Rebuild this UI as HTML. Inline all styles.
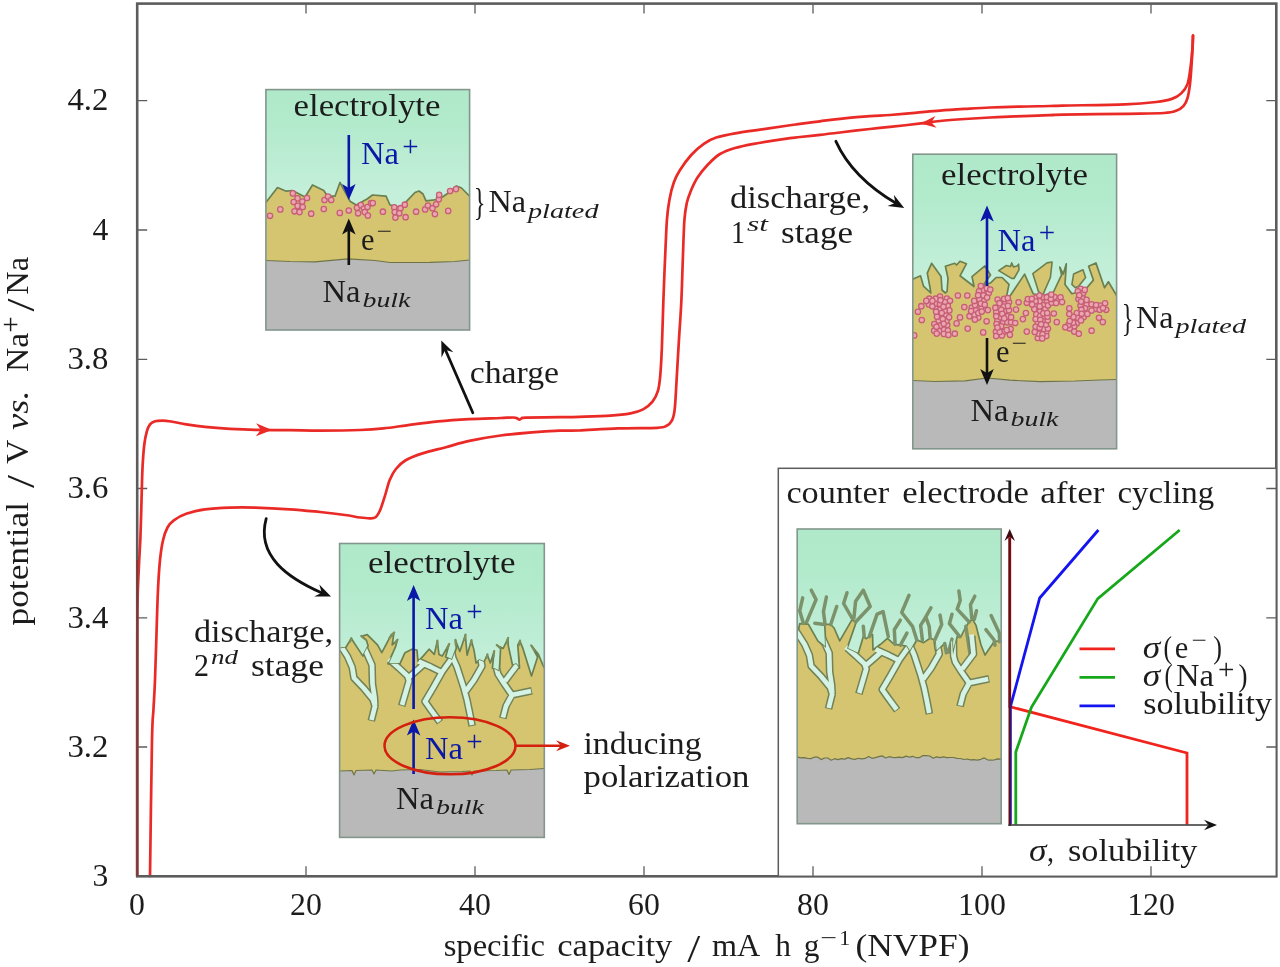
<!DOCTYPE html>
<html lang="en"><head><meta charset="utf-8"><title>Potential vs specific capacity</title>
<style>html,body{margin:0;padding:0;background:#fff}body{width:1280px;height:967px;overflow:hidden}svg{display:block}text{font-family:"Liberation Serif", "DejaVu Serif", serif;white-space:pre}</style>
</head><body>
<svg width="1280" height="967" viewBox="0 0 1280 967">
<rect width="1280" height="967" fill="#fff"/>
<defs>
<linearGradient id="gel" x1="0" y1="0" x2="0" y2="1"><stop offset="0" stop-color="#b0e9ca"/><stop offset="0.14" stop-color="#b2eacc"/><stop offset="0.42" stop-color="#c4efda"/><stop offset="1" stop-color="#c7f0dc"/></linearGradient>
</defs>
<path d="M137.2 747.0h10M1276.3 747.0h-10M137.2 617.8h10M1276.3 617.8h-10M137.2 488.5h10M1276.3 488.5h-10M137.2 359.3h10M1276.3 359.3h-10M137.2 230.0h10M1276.3 230.0h-10M137.2 100.7h10M1276.3 100.7h-10M306.0 876.3v-10M306.0 3.6v10M475.0 876.3v-10M475.0 3.6v10M644.0 876.3v-10M644.0 3.6v10M813.0 876.3v-10M813.0 3.6v10M982.0 876.3v-10M982.0 3.6v10M1151.0 876.3v-10M1151.0 3.6v10" stroke="#5c5c5c" stroke-width="1.3" fill="none"/>
<g fill="none" stroke="#ea2a26" stroke-width="2.7" stroke-linejoin="round" stroke-linecap="round">
<path d="M137.2 876.0C137.2 838.3 137.2 696.0 137.3 650.0C137.4 604.0 137.4 613.5 137.6 600.0C137.8 586.5 138.3 579.2 138.8 568.8C139.2 558.3 140.0 548.1 140.4 537.5C140.8 526.9 141.1 514.2 141.4 505.0C141.7 495.8 141.8 489.1 142.0 482.0C142.2 474.9 142.4 468.9 142.8 462.5C143.2 456.1 143.7 449.0 144.4 443.8C145.1 438.5 146.0 434.5 146.9 431.2C147.8 428.0 148.7 426.1 150.0 424.4C151.3 422.7 152.9 421.9 155.0 421.2C157.1 420.6 159.8 420.6 162.5 420.6C165.2 420.6 167.3 420.9 171.2 421.5C175.2 422.1 180.6 423.5 186.2 424.4C191.9 425.3 197.7 426.2 205.0 426.9C212.3 427.6 221.7 428.3 230.0 428.8C238.3 429.2 245.0 429.5 255.0 429.8C265.0 430.0 279.2 430.1 290.0 430.2C300.8 430.3 308.3 430.6 320.0 430.6C331.7 430.6 349.4 430.4 360.0 430.0C370.6 429.6 375.6 429.2 383.4 428.4C391.2 427.6 397.8 426.5 406.9 425.3C416.0 424.1 427.7 422.4 438.1 421.4C448.5 420.4 459.0 419.7 469.4 419.1C479.8 418.5 493.2 418.3 500.6 418.0C508.0 417.7 510.8 417.5 513.5 417.5C516.2 417.5 516.0 417.8 517.0 418.2C518.0 418.6 518.6 419.6 519.4 419.6C520.2 419.6 520.9 418.5 522.0 418.2C523.1 417.9 519.7 417.9 526.0 417.7C532.3 417.5 551.2 417.3 560.0 417.2C568.8 417.1 570.6 417.2 579.0 416.9C587.4 416.6 601.7 416.2 610.3 415.6C618.9 415.0 625.1 414.3 630.6 413.3C636.1 412.3 639.5 411.3 643.1 409.4C646.8 407.4 650.0 404.7 652.5 401.6C655.0 398.5 656.7 395.0 658.0 390.6C659.3 386.2 659.6 382.3 660.3 375.0C660.9 367.7 661.4 359.4 661.9 346.9C662.4 334.4 662.9 314.5 663.4 300.0C663.9 285.5 664.4 273.3 665.0 260.0C665.6 246.7 666.2 230.0 666.9 220.0C667.6 210.0 668.3 206.2 669.4 200.0C670.5 193.8 672.0 187.5 673.8 182.5C675.5 177.5 677.1 174.6 680.0 170.0C682.9 165.4 687.3 159.4 691.2 155.0C695.2 150.6 699.6 146.7 703.8 143.8C707.9 140.8 711.0 139.2 716.2 137.5C721.5 135.8 727.7 134.6 735.0 133.3C742.3 132.0 751.7 130.8 760.0 129.6C768.3 128.4 778.3 127.0 785.0 126.0C791.7 125.0 794.2 124.7 800.0 123.9C805.8 123.1 813.3 122.2 820.0 121.3C826.7 120.4 831.7 119.6 840.0 118.8C848.3 118.0 861.7 116.8 870.0 116.2C878.3 115.6 882.5 115.6 890.0 115.0C897.5 114.4 906.7 113.5 915.0 112.8C923.3 112.1 931.7 111.2 940.0 110.6C948.3 109.9 956.7 109.4 965.0 108.9C973.3 108.4 980.8 107.9 990.0 107.5C999.2 107.1 1010.0 106.8 1020.0 106.6C1030.0 106.3 1042.9 106.2 1050.0 106.0C1057.1 105.8 1050.0 105.9 1062.5 105.6C1075.0 105.3 1109.4 105.0 1125.0 104.4C1140.6 103.8 1148.4 102.9 1156.2 102.0C1164.1 101.1 1167.7 100.3 1171.9 98.9C1176.1 97.5 1178.7 95.9 1181.2 93.4C1183.8 90.9 1185.9 88.5 1187.5 84.1C1189.1 79.7 1189.8 72.9 1190.6 66.9C1191.4 60.9 1192.1 53.3 1192.5 48.1C1192.9 42.9 1192.9 37.7 1193.0 35.6"/>
<path d="M1193.0 35.6C1192.9 37.7 1192.8 42.9 1192.5 48.1C1192.2 53.3 1191.9 60.7 1191.4 66.9C1191.0 73.2 1190.5 80.4 1189.8 85.6C1189.1 90.8 1188.5 94.7 1187.5 98.1C1186.5 101.5 1185.4 103.8 1183.6 105.9C1181.8 108.0 1179.9 109.4 1176.6 110.6C1173.3 111.8 1172.6 112.5 1164.0 113.0C1155.4 113.5 1141.9 113.5 1125.0 113.8C1108.1 114.0 1075.0 114.5 1062.5 114.7C1050.0 114.9 1057.9 114.9 1050.0 115.2C1042.1 115.5 1025.0 116.0 1015.0 116.4C1005.0 116.8 998.3 117.1 990.0 117.5C981.7 117.9 973.3 118.4 965.0 119.0C956.7 119.6 947.3 120.3 940.0 121.0C932.7 121.7 929.3 122.4 921.0 123.4C912.7 124.4 898.5 126.0 890.0 126.9C881.5 127.8 878.3 128.1 870.0 129.0C861.7 129.9 848.3 131.5 840.0 132.5C831.7 133.5 826.7 134.1 820.0 134.8C813.3 135.6 805.8 136.3 800.0 137.0C794.2 137.7 792.7 137.7 785.0 138.8C777.3 139.9 762.1 142.3 753.8 143.8C745.4 145.3 740.6 146.3 735.0 148.0C729.4 149.7 724.6 151.2 720.0 154.0C715.4 156.8 711.2 161.1 707.5 165.0C703.8 168.9 700.2 173.3 697.5 177.5C694.8 181.7 693.0 185.8 691.2 190.0C689.5 194.2 688.0 197.5 686.9 202.5C685.8 207.5 685.1 210.4 684.4 220.0C683.7 229.6 683.3 246.7 682.8 260.0C682.3 273.3 682.0 286.8 681.4 300.0C680.8 313.2 679.8 326.0 679.0 339.0C678.2 352.0 677.4 366.4 676.7 378.1C676.0 389.8 675.5 402.4 674.7 409.4C673.9 416.4 673.4 417.6 672.0 420.3C670.6 423.0 669.1 424.6 666.6 425.8C664.1 427.1 665.3 427.4 657.2 427.8C649.1 428.2 631.1 427.9 618.1 428.4C605.1 428.8 588.7 430.1 579.0 430.5C569.3 430.9 567.9 430.4 560.0 430.7C552.1 431.0 541.8 431.5 531.9 432.3C522.0 433.1 511.0 434.1 500.6 435.5C490.2 436.9 478.5 438.9 469.4 440.9C460.3 442.8 453.7 445.1 445.9 447.2C438.1 449.3 429.3 451.2 422.5 453.4C415.7 455.6 409.7 457.9 405.3 460.5C400.9 463.1 398.5 465.8 395.9 469.0C393.3 472.2 391.5 475.6 389.7 480.0C387.9 484.4 386.6 490.7 385.0 495.6C383.4 500.6 381.9 506.1 380.3 509.7C378.7 513.3 377.4 515.8 375.6 517.2C373.8 518.6 372.0 518.2 369.4 518.3C366.8 518.3 364.1 518.0 360.0 517.5C355.9 517.0 351.7 515.9 345.0 515.0C338.3 514.1 329.2 513.0 320.0 512.0C310.8 511.1 300.8 510.0 290.0 509.3C279.2 508.6 265.0 507.9 255.0 507.6C245.0 507.3 238.3 507.3 230.0 507.6C221.7 507.9 212.3 508.4 205.0 509.4C197.7 510.4 191.5 512.0 186.2 513.8C181.0 515.6 176.9 518.0 173.8 520.3C170.6 522.6 169.3 524.2 167.5 527.5C165.7 530.8 164.3 534.6 163.1 540.0C161.8 545.4 160.8 552.1 160.0 560.0C159.2 567.9 158.6 577.5 158.1 587.5C157.6 597.5 157.4 604.6 156.9 620.0C156.4 635.4 155.6 665.2 155.0 680.0C154.4 694.8 154.0 699.0 153.5 709.0C153.0 719.0 152.6 712.2 152.0 740.0C151.4 767.8 150.3 853.3 150.0 876.0"/>
</g>
<path d="M272.0 430.0L255.9 436.2L260.8 429.8L256.1 423.2Z" fill="#ea2a26"/>
<path d="M920.6 123.5L935.4 115.9L931.4 122.4L936.6 127.8Z" fill="#ea2a26"/>
<rect x="137.2" y="3.6" width="1139.1" height="872.7" fill="none" stroke="#5c5c5c" stroke-width="2.6"/>
<path d="M137.3 876V560" stroke="#b01010" stroke-width="1.6" opacity="0.55" fill="none"/>
<g>
<text x="92.6" y="886.0" font-size="32.5" fill="#1c1c1c" textLength="15.8" lengthAdjust="spacingAndGlyphs">3</text>
<text x="67.4" y="756.7" font-size="32.5" fill="#1c1c1c" textLength="41.0" lengthAdjust="spacingAndGlyphs">3.2</text>
<text x="67.4" y="627.5" font-size="32.5" fill="#1c1c1c" textLength="41.0" lengthAdjust="spacingAndGlyphs">3.4</text>
<text x="67.4" y="498.2" font-size="32.5" fill="#1c1c1c" textLength="41.0" lengthAdjust="spacingAndGlyphs">3.6</text>
<text x="67.4" y="369.0" font-size="32.5" fill="#1c1c1c" textLength="41.0" lengthAdjust="spacingAndGlyphs">3.8</text>
<text x="92.6" y="239.7" font-size="32.5" fill="#1c1c1c" textLength="15.8" lengthAdjust="spacingAndGlyphs">4</text>
<text x="67.4" y="110.4" font-size="32.5" fill="#1c1c1c" textLength="41.0" lengthAdjust="spacingAndGlyphs">4.2</text>
<text x="129.1" y="914.9" font-size="32.5" fill="#1c1c1c" textLength="15.9" lengthAdjust="spacingAndGlyphs">0</text>
<text x="290.1" y="914.9" font-size="32.5" fill="#1c1c1c" textLength="31.8" lengthAdjust="spacingAndGlyphs">20</text>
<text x="459.1" y="914.9" font-size="32.5" fill="#1c1c1c" textLength="31.8" lengthAdjust="spacingAndGlyphs">40</text>
<text x="628.1" y="914.9" font-size="32.5" fill="#1c1c1c" textLength="31.8" lengthAdjust="spacingAndGlyphs">60</text>
<text x="797.1" y="914.9" font-size="32.5" fill="#1c1c1c" textLength="31.8" lengthAdjust="spacingAndGlyphs">80</text>
<text x="958.1" y="914.9" font-size="32.5" fill="#1c1c1c" textLength="47.7" lengthAdjust="spacingAndGlyphs">100</text>
<text x="1127.2" y="914.9" font-size="32.5" fill="#1c1c1c" textLength="47.7" lengthAdjust="spacingAndGlyphs">120</text>
</g>
<text x="443.7" y="955.8" font-size="32" fill="#1c1c1c" textLength="101.3" lengthAdjust="spacingAndGlyphs">specific</text>
<text x="557.2" y="955.8" font-size="32" fill="#1c1c1c" textLength="115.2" lengthAdjust="spacingAndGlyphs">capacity</text>
<text x="687.3" y="961.8" font-size="40" fill="#1c1c1c" textLength="13.0" lengthAdjust="spacingAndGlyphs">/</text>
<text x="712.0" y="955.8" font-size="32" fill="#1c1c1c" textLength="48.3" lengthAdjust="spacingAndGlyphs">mA</text>
<text x="775.3" y="955.8" font-size="32" fill="#1c1c1c" textLength="15.7" lengthAdjust="spacingAndGlyphs">h</text>
<text x="803.8" y="955.8" font-size="32" fill="#1c1c1c" textLength="15.7" lengthAdjust="spacingAndGlyphs">g</text>
<text x="820.3" y="944.5" font-size="21.5" fill="#1c1c1c" textLength="16.7" lengthAdjust="spacingAndGlyphs">−</text>
<text x="839.3" y="944.5" font-size="21.5" fill="#1c1c1c" textLength="11.0" lengthAdjust="spacingAndGlyphs">1</text>
<text x="855.5" y="955.8" font-size="32" fill="#1c1c1c" textLength="114.0" lengthAdjust="spacingAndGlyphs">(NVPF)</text>
<g transform="translate(28.2 626) rotate(-90)">
<text x="0.6" y="0.0" font-size="32" fill="#1c1c1c" textLength="123.4" lengthAdjust="spacingAndGlyphs">potential</text>
<text x="138.0" y="6.0" font-size="40" fill="#1c1c1c" textLength="13.0" lengthAdjust="spacingAndGlyphs">/</text>
<text x="162.0" y="0.0" font-size="32" fill="#1c1c1c" textLength="24.3" lengthAdjust="spacingAndGlyphs">V</text>
<text x="196.0" y="0.0" font-size="32" fill="#1c1c1c" textLength="39.5" lengthAdjust="spacingAndGlyphs" font-style="italic">vs.</text>
<text x="254.0" y="0.0" font-size="32" fill="#1c1c1c" textLength="39.3" lengthAdjust="spacingAndGlyphs">Na</text>
<text x="293.3" y="-8.6" font-size="29" fill="#1c1c1c" textLength="16.4" lengthAdjust="spacingAndGlyphs">+</text>
<text x="314.5" y="6.0" font-size="40" fill="#1c1c1c" textLength="13.0" lengthAdjust="spacingAndGlyphs">/</text>
<text x="331.3" y="0.0" font-size="32" fill="#1c1c1c" textLength="37.7" lengthAdjust="spacingAndGlyphs">Na</text>
</g>
<clipPath id="cp-inset-charge"><rect x="265.9" y="89.6" width="203.7" height="240.4"/></clipPath>
<g id="inset-charge"><g clip-path="url(#cp-inset-charge)">
<rect x="265.9" y="89.6" width="203.7" height="240.4" fill="url(#gel)"/>
<path d="M265.9 260.5L265.9 260.5L290.0 261.5L315.0 261.8L348.0 258.8L375.0 260.5L390.0 262.5L430.0 262.3L455.0 261.5L469.6 260.0L469.6 260.0L469.6 330.0L265.9 330.0Z" fill="#b9b9b9"/>
<clipPath id="cy-inset-charge"><path d="M265.9 202.5L277.5 187.5L286.2 191.2L292.5 190.5L305.0 197.0L312.5 185.0L323.8 190.5L327.5 196.2L335.0 196.2L340.0 182.5L350.0 201.2L356.2 205.0L367.5 198.8L372.5 195.0L386.0 196.2L390.0 205.0L400.0 207.5L407.0 200.8L415.0 192.5L419.0 191.0L423.0 194.0L426.0 200.8L437.5 199.5L442.5 197.0L449.0 192.5L456.5 186.0L461.5 188.0L469.6 196.2L469.6 260.0L455.0 261.5L430.0 262.3L390.0 262.5L375.0 260.5L348.0 258.8L315.0 261.8L290.0 261.5L265.9 260.5Z"/></clipPath>
<path d="M265.9 202.5L277.5 187.5L286.2 191.2L292.5 190.5L305.0 197.0L312.5 185.0L323.8 190.5L327.5 196.2L335.0 196.2L340.0 182.5L350.0 201.2L356.2 205.0L367.5 198.8L372.5 195.0L386.0 196.2L390.0 205.0L400.0 207.5L407.0 200.8L415.0 192.5L419.0 191.0L423.0 194.0L426.0 200.8L437.5 199.5L442.5 197.0L449.0 192.5L456.5 186.0L461.5 188.0L469.6 196.2L469.6 260.0L455.0 261.5L430.0 262.3L390.0 262.5L375.0 260.5L348.0 258.8L315.0 261.8L290.0 261.5L265.9 260.5Z" fill="#d5c570"/>
<path d="M265.9 202.5L277.5 187.5L286.2 191.2L292.5 190.5L305.0 197.0L312.5 185.0L323.8 190.5L327.5 196.2L335.0 196.2L340.0 182.5L350.0 201.2L356.2 205.0L367.5 198.8L372.5 195.0L386.0 196.2L390.0 205.0L400.0 207.5L407.0 200.8L415.0 192.5L419.0 191.0L423.0 194.0L426.0 200.8L437.5 199.5L442.5 197.0L449.0 192.5L456.5 186.0L461.5 188.0L469.6 196.2" fill="none" stroke="#6a8050" stroke-width="1.7" stroke-linejoin="round"/>
<path d="M265.9 260.5L290.0 261.5L315.0 261.8L348.0 258.8L375.0 260.5L390.0 262.5L430.0 262.3L455.0 261.5L469.6 260.0" fill="none" stroke="#6f7448" stroke-width="1.2" stroke-linejoin="round"/>
<g fill="#eba6b0" stroke="#c65f76" stroke-width="1.3">
<circle cx="270.0" cy="215.8" r="2.7"/><circle cx="280.3" cy="209.4" r="2.7"/><circle cx="292.9" cy="193.4" r="2.7"/><circle cx="297.6" cy="198.4" r="2.7"/><circle cx="293.7" cy="202.0" r="2.7"/><circle cx="302.3" cy="201.6" r="2.7"/><circle cx="307.0" cy="198.0" r="2.7"/><circle cx="297.6" cy="205.9" r="2.7"/><circle cx="302.7" cy="207.0" r="2.7"/><circle cx="294.5" cy="211.3" r="2.7"/><circle cx="299.5" cy="212.1" r="2.7"/><circle cx="311.2" cy="213.7" r="2.7"/><circle cx="324.5" cy="200.0" r="2.7"/><circle cx="328.0" cy="196.5" r="2.7"/><circle cx="331.2" cy="200.0" r="2.7"/><circle cx="323.8" cy="209.0" r="2.7"/><circle cx="339.8" cy="212.9" r="2.7"/><circle cx="348.8" cy="210.5" r="2.7"/><circle cx="357.0" cy="207.8" r="2.7"/><circle cx="360.9" cy="205.1" r="2.7"/><circle cx="364.0" cy="208.6" r="2.7"/><circle cx="358.1" cy="213.3" r="2.7"/><circle cx="364.8" cy="212.1" r="2.7"/><circle cx="367.5" cy="207.0" r="2.7"/><circle cx="371.0" cy="203.1" r="2.7"/><circle cx="367.9" cy="215.6" r="2.7"/><circle cx="372.8" cy="203.1" r="2.7"/><circle cx="382.9" cy="211.7" r="2.7"/><circle cx="394.3" cy="207.4" r="2.7"/><circle cx="400.5" cy="208.2" r="2.7"/><circle cx="404.8" cy="204.7" r="2.7"/><circle cx="394.7" cy="212.1" r="2.7"/><circle cx="399.3" cy="213.3" r="2.7"/><circle cx="395.4" cy="217.6" r="2.7"/><circle cx="405.6" cy="217.2" r="2.7"/><circle cx="416.1" cy="211.7" r="2.7"/><circle cx="425.1" cy="209.4" r="2.7"/><circle cx="427.9" cy="205.5" r="2.7"/><circle cx="432.5" cy="208.2" r="2.7"/><circle cx="436.1" cy="204.3" r="2.7"/><circle cx="438.8" cy="199.2" r="2.7"/><circle cx="439.2" cy="194.9" r="2.7"/><circle cx="434.9" cy="214.1" r="2.7"/><circle cx="448.2" cy="210.9" r="2.7"/><circle cx="450.1" cy="191.0" r="2.7"/><circle cx="456.0" cy="189.1" r="2.7"/>
</g>
<text x="293.5" y="115.5" font-size="31" fill="#1c1c1c" textLength="147.0" lengthAdjust="spacingAndGlyphs">electrolyte</text>
<path d="M348.8 135.0V192.0" stroke="#0a17a8" stroke-width="2.6" fill="none"/>
<path d="M348.8 200.0L342.1 184.0L348.8 188.0L355.6 184.0Z" fill="#0a17a8"/>
<text x="361.0" y="164.0" font-size="31" fill="#0a17a8" textLength="38.0" lengthAdjust="spacingAndGlyphs">Na</text>
<text x="402.2" y="155.8" font-size="29" fill="#0a17a8" textLength="16.4" lengthAdjust="spacingAndGlyphs">+</text>
<path d="M348.8 265.0V226.5" stroke="#111" stroke-width="2.6" fill="none"/>
<path d="M348.8 218.5L355.6 234.5L348.8 230.5L342.1 234.5Z" fill="#111"/>
<text x="361.0" y="250.0" font-size="31" fill="#1c1c1c" textLength="13.5" lengthAdjust="spacingAndGlyphs">e</text>
<text x="376.5" y="238.0" font-size="21" fill="#1c1c1c" textLength="15.5" lengthAdjust="spacingAndGlyphs">−</text>
<text x="322.5" y="302.0" font-size="31" fill="#1c1c1c" textLength="38.0" lengthAdjust="spacingAndGlyphs">Na</text>
<text x="362.5" y="306.5" font-size="21.5" fill="#1c1c1c" textLength="48.0" lengthAdjust="spacingAndGlyphs" font-style="italic">bulk</text>
</g>
<rect x="265.9" y="89.6" width="203.7" height="240.4" fill="none" stroke="#82968c" stroke-width="1.6"/>
</g>
<text x="473.8" y="214.5" font-size="37" fill="#1c1c1c" textLength="11.7" lengthAdjust="spacingAndGlyphs">}</text>
<text x="488.5" y="212.0" font-size="31" fill="#1c1c1c" textLength="37.5" lengthAdjust="spacingAndGlyphs">Na</text>
<text x="528.0" y="217.5" font-size="21.5" fill="#1c1c1c" textLength="70.5" lengthAdjust="spacingAndGlyphs" font-style="italic">plated</text>
<clipPath id="cp-inset-discharge1"><rect x="912.8" y="154.2" width="203.8" height="294.6"/></clipPath>
<g id="inset-discharge1"><g clip-path="url(#cp-inset-discharge1)">
<rect x="912.8" y="154.2" width="203.8" height="294.6" fill="url(#gel)"/>
<path d="M912.8 380.5L912.8 380.5L935.0 381.5L965.0 380.8L987.0 378.0L1010.0 380.2L1040.0 381.6L1075.0 381.0L1100.0 380.0L1116.6 379.5L1116.6 379.5L1116.6 448.8L912.8 448.8Z" fill="#b9b9b9"/>
<clipPath id="cy-inset-discharge1"><path d="M912.8 279.2L920.5 275.8L923.5 286.1L930.8 293.0L929.9 287.0L927.3 273.2L931.6 263.3L941.1 276.6L942.0 290.0L945.4 293.0L947.1 291.3L948.0 278.4L945.4 266.3L954.8 263.3L956.6 265.0L960.0 261.2L966.4 263.8L960.0 275.8L974.0 286.5L972.0 276.6L984.9 265.9L990.5 275.0L983.0 285.5L990.9 282.7L996.1 277.5L1002.1 277.5L1009.0 284.4L1006.5 296.5L1010.0 296.0L1024.6 274.1L1033.2 293.8L1038.0 295.0L1042.7 295.5L1048.0 294.0L1053.0 293.0L1061.6 274.9L1059.8 267.2L1063.3 274.1L1066.3 263.8L1065.0 284.4L1071.9 293.8L1078.0 292.0L1083.9 291.3L1093.4 280.1L1088.6 266.3L1095.9 262.9L1104.5 287.8L1108.4 281.8L1116.6 295.5L1116.6 379.5L1100.0 380.0L1075.0 381.0L1040.0 381.6L1010.0 380.2L987.0 378.0L965.0 380.8L935.0 381.5L912.8 380.5Z"/></clipPath>
<path d="M912.8 279.2L920.5 275.8L923.5 286.1L930.8 293.0L929.9 287.0L927.3 273.2L931.6 263.3L941.1 276.6L942.0 290.0L945.4 293.0L947.1 291.3L948.0 278.4L945.4 266.3L954.8 263.3L956.6 265.0L960.0 261.2L966.4 263.8L960.0 275.8L974.0 286.5L972.0 276.6L984.9 265.9L990.5 275.0L983.0 285.5L990.9 282.7L996.1 277.5L1002.1 277.5L1009.0 284.4L1006.5 296.5L1010.0 296.0L1024.6 274.1L1033.2 293.8L1038.0 295.0L1042.7 295.5L1048.0 294.0L1053.0 293.0L1061.6 274.9L1059.8 267.2L1063.3 274.1L1066.3 263.8L1065.0 284.4L1071.9 293.8L1078.0 292.0L1083.9 291.3L1093.4 280.1L1088.6 266.3L1095.9 262.9L1104.5 287.8L1108.4 281.8L1116.6 295.5L1116.6 379.5L1100.0 380.0L1075.0 381.0L1040.0 381.6L1010.0 380.2L987.0 378.0L965.0 380.8L935.0 381.5L912.8 380.5Z" fill="#d5c570"/>
<path d="M912.8 279.2L920.5 275.8L923.5 286.1L930.8 293.0L929.9 287.0L927.3 273.2L931.6 263.3L941.1 276.6L942.0 290.0L945.4 293.0L947.1 291.3L948.0 278.4L945.4 266.3L954.8 263.3L956.6 265.0L960.0 261.2L966.4 263.8L960.0 275.8L974.0 286.5L972.0 276.6L984.9 265.9L990.5 275.0L983.0 285.5L990.9 282.7L996.1 277.5L1002.1 277.5L1009.0 284.4L1006.5 296.5L1010.0 296.0L1024.6 274.1L1033.2 293.8L1038.0 295.0L1042.7 295.5L1048.0 294.0L1053.0 293.0L1061.6 274.9L1059.8 267.2L1063.3 274.1L1066.3 263.8L1065.0 284.4L1071.9 293.8L1078.0 292.0L1083.9 291.3L1093.4 280.1L1088.6 266.3L1095.9 262.9L1104.5 287.8L1108.4 281.8L1116.6 295.5" fill="none" stroke="#6a8050" stroke-width="1.7" stroke-linejoin="round"/>
<path d="M912.8 380.5L935.0 381.5L965.0 380.8L987.0 378.0L1010.0 380.2L1040.0 381.6L1075.0 381.0L1100.0 380.0L1116.6 379.5" fill="none" stroke="#6f7448" stroke-width="1.2" stroke-linejoin="round"/>
<path d="M998.7 270.6L1006.4 265.5L1010.5 266.5L1011.7 262.9L1013.5 267.0L1017.0 266.0L1018.6 264.2L1019.0 269.8L1014.0 278.5L1011.6 278.4Z" fill="#d5c570" stroke="#6a8050" stroke-width="1.6" stroke-linejoin="round"/>
<path d="M1032.8 273.6L1047.0 262.9L1052.1 262.0L1050.4 277.5L1042.7 295.1L1038.4 291.3Z" fill="#d5c570" stroke="#6a8050" stroke-width="1.6" stroke-linejoin="round"/>
<path d="M1071.9 284.4L1073.6 274.1L1083.0 269.8L1085.6 277.5L1078.8 286.1L1075.3 287.8Z" fill="#d5c570" stroke="#6a8050" stroke-width="1.6" stroke-linejoin="round"/>
<g fill="#eba6b0" stroke="#c65f76" stroke-width="1.3">
<circle cx="938.7" cy="320.7" r="2.7"/><circle cx="934.3" cy="324.0" r="2.7"/><circle cx="939.7" cy="331.0" r="2.7"/><circle cx="945.9" cy="314.7" r="2.7"/><circle cx="946.8" cy="298.5" r="2.7"/><circle cx="947.2" cy="324.9" r="2.7"/><circle cx="946.4" cy="320.9" r="2.7"/><circle cx="947.8" cy="305.7" r="2.7"/><circle cx="935.6" cy="307.7" r="2.7"/><circle cx="943.9" cy="329.6" r="2.7"/><circle cx="940.0" cy="296.6" r="2.7"/><circle cx="940.1" cy="309.6" r="2.7"/><circle cx="935.2" cy="303.8" r="2.7"/><circle cx="934.2" cy="330.7" r="2.7"/><circle cx="937.0" cy="316.7" r="2.7"/><circle cx="935.7" cy="298.7" r="2.7"/><circle cx="936.7" cy="333.6" r="2.7"/><circle cx="940.6" cy="325.6" r="2.7"/><circle cx="940.0" cy="304.0" r="2.7"/><circle cx="949.4" cy="310.4" r="2.7"/><circle cx="947.9" cy="330.6" r="2.7"/><circle cx="943.8" cy="333.9" r="2.7"/><circle cx="944.6" cy="310.7" r="2.7"/><circle cx="942.8" cy="319.0" r="2.7"/><circle cx="950.0" cy="300.8" r="2.7"/><circle cx="944.8" cy="302.0" r="2.7"/><circle cx="941.7" cy="313.0" r="2.7"/><circle cx="936.1" cy="311.7" r="2.7"/><circle cx="949.1" cy="317.3" r="2.7"/><circle cx="943.4" cy="306.7" r="2.7"/><circle cx="940.5" cy="300.2" r="2.7"/><circle cx="943.7" cy="323.8" r="2.7"/><circle cx="948.4" cy="334.9" r="2.7"/><circle cx="936.5" cy="326.8" r="2.7"/><circle cx="928.9" cy="304.5" r="2.7"/><circle cx="929.3" cy="298.7" r="2.7"/><circle cx="932.3" cy="306.2" r="2.7"/><circle cx="932.4" cy="300.9" r="2.7"/><circle cx="926.3" cy="300.9" r="2.7"/><circle cx="983.3" cy="295.4" r="2.7"/><circle cx="982.9" cy="289.9" r="2.7"/><circle cx="971.8" cy="307.5" r="2.7"/><circle cx="975.7" cy="310.4" r="2.7"/><circle cx="979.4" cy="299.4" r="2.7"/><circle cx="969.5" cy="316.2" r="2.7"/><circle cx="978.3" cy="317.6" r="2.7"/><circle cx="974.5" cy="314.9" r="2.7"/><circle cx="975.0" cy="305.1" r="2.7"/><circle cx="988.7" cy="292.9" r="2.7"/><circle cx="981.5" cy="307.3" r="2.7"/><circle cx="983.9" cy="301.1" r="2.7"/><circle cx="979.0" cy="291.4" r="2.7"/><circle cx="987.1" cy="297.6" r="2.7"/><circle cx="980.8" cy="303.6" r="2.7"/><circle cx="978.3" cy="313.0" r="2.7"/><circle cx="980.8" cy="286.0" r="2.7"/><circle cx="974.9" cy="319.6" r="2.7"/><circle cx="974.2" cy="300.9" r="2.7"/><circle cx="978.1" cy="295.2" r="2.7"/><circle cx="986.8" cy="288.3" r="2.7"/><circle cx="984.8" cy="304.7" r="2.7"/><circle cx="971.1" cy="311.1" r="2.7"/><circle cx="981.8" cy="311.6" r="2.7"/><circle cx="990.3" cy="289.6" r="2.7"/><circle cx="1010.6" cy="329.0" r="2.7"/><circle cx="1003.7" cy="332.1" r="2.7"/><circle cx="1001.9" cy="335.5" r="2.7"/><circle cx="1005.2" cy="310.7" r="2.7"/><circle cx="997.6" cy="299.5" r="2.7"/><circle cx="996.0" cy="331.7" r="2.7"/><circle cx="1003.3" cy="321.9" r="2.7"/><circle cx="996.2" cy="312.0" r="2.7"/><circle cx="997.4" cy="320.6" r="2.7"/><circle cx="1005.3" cy="302.9" r="2.7"/><circle cx="996.2" cy="336.1" r="2.7"/><circle cx="1000.8" cy="317.2" r="2.7"/><circle cx="1001.2" cy="326.3" r="2.7"/><circle cx="1004.2" cy="298.9" r="2.7"/><circle cx="1009.0" cy="310.2" r="2.7"/><circle cx="1007.3" cy="322.3" r="2.7"/><circle cx="999.7" cy="332.0" r="2.7"/><circle cx="1006.7" cy="330.1" r="2.7"/><circle cx="1003.8" cy="306.5" r="2.7"/><circle cx="999.5" cy="303.2" r="2.7"/><circle cx="1009.9" cy="334.8" r="2.7"/><circle cx="1009.0" cy="302.2" r="2.7"/><circle cx="1007.9" cy="305.9" r="2.7"/><circle cx="1001.2" cy="309.9" r="2.7"/><circle cx="1007.5" cy="316.4" r="2.7"/><circle cx="996.5" cy="324.1" r="2.7"/><circle cx="1007.8" cy="298.1" r="2.7"/><circle cx="1011.0" cy="322.3" r="2.7"/><circle cx="1002.2" cy="313.9" r="2.7"/><circle cx="995.4" cy="307.7" r="2.7"/><circle cx="996.2" cy="316.2" r="2.7"/><circle cx="1011.1" cy="317.2" r="2.7"/><circle cx="1004.2" cy="318.4" r="2.7"/><circle cx="997.5" cy="327.6" r="2.7"/><circle cx="1043.5" cy="317.4" r="2.7"/><circle cx="1036.2" cy="297.5" r="2.7"/><circle cx="1042.9" cy="297.3" r="2.7"/><circle cx="1039.7" cy="311.5" r="2.7"/><circle cx="1039.6" cy="301.2" r="2.7"/><circle cx="1043.7" cy="321.5" r="2.7"/><circle cx="1037.8" cy="322.5" r="2.7"/><circle cx="1043.5" cy="305.3" r="2.7"/><circle cx="1035.6" cy="326.8" r="2.7"/><circle cx="1036.1" cy="305.2" r="2.7"/><circle cx="1046.2" cy="332.2" r="2.7"/><circle cx="1036.3" cy="314.4" r="2.7"/><circle cx="1037.8" cy="338.0" r="2.7"/><circle cx="1045.4" cy="309.1" r="2.7"/><circle cx="1047.0" cy="301.0" r="2.7"/><circle cx="1040.1" cy="316.1" r="2.7"/><circle cx="1043.8" cy="329.1" r="2.7"/><circle cx="1048.0" cy="305.4" r="2.7"/><circle cx="1034.3" cy="309.1" r="2.7"/><circle cx="1038.9" cy="333.7" r="2.7"/><circle cx="1034.7" cy="332.0" r="2.7"/><circle cx="1039.6" cy="327.8" r="2.7"/><circle cx="1043.3" cy="313.4" r="2.7"/><circle cx="1035.5" cy="301.3" r="2.7"/><circle cx="1047.9" cy="328.5" r="2.7"/><circle cx="1046.3" cy="336.0" r="2.7"/><circle cx="1045.9" cy="324.7" r="2.7"/><circle cx="1046.8" cy="297.2" r="2.7"/><circle cx="1042.5" cy="334.4" r="2.7"/><circle cx="1042.2" cy="338.4" r="2.7"/><circle cx="1047.8" cy="320.3" r="2.7"/><circle cx="1039.7" cy="306.4" r="2.7"/><circle cx="1047.5" cy="316.6" r="2.7"/><circle cx="1035.6" cy="319.0" r="2.7"/><circle cx="1040.3" cy="319.8" r="2.7"/><circle cx="1039.4" cy="295.5" r="2.7"/><circle cx="1041.1" cy="324.2" r="2.7"/><circle cx="1047.2" cy="313.0" r="2.7"/><circle cx="1057.4" cy="299.2" r="2.7"/><circle cx="1051.6" cy="302.7" r="2.7"/><circle cx="1056.1" cy="303.0" r="2.7"/><circle cx="1060.5" cy="297.3" r="2.7"/><circle cx="1026.8" cy="302.8" r="2.7"/><circle cx="1027.9" cy="299.1" r="2.7"/><circle cx="1062.1" cy="302.1" r="2.7"/><circle cx="1054.4" cy="297.0" r="2.7"/><circle cx="1032.1" cy="304.4" r="2.7"/><circle cx="1031.8" cy="298.8" r="2.7"/><circle cx="1050.9" cy="298.9" r="2.7"/><circle cx="1082.9" cy="298.3" r="2.7"/><circle cx="1080.5" cy="305.7" r="2.7"/><circle cx="1080.6" cy="288.9" r="2.7"/><circle cx="1077.8" cy="291.3" r="2.7"/><circle cx="1086.7" cy="304.4" r="2.7"/><circle cx="1083.1" cy="293.1" r="2.7"/><circle cx="1085.0" cy="308.3" r="2.7"/><circle cx="1078.5" cy="298.9" r="2.7"/><circle cx="1079.3" cy="295.2" r="2.7"/><circle cx="1084.8" cy="289.9" r="2.7"/><circle cx="1081.1" cy="301.6" r="2.7"/><circle cx="1086.6" cy="299.9" r="2.7"/><circle cx="1081.4" cy="309.7" r="2.7"/><circle cx="1076.7" cy="323.4" r="2.7"/><circle cx="1074.3" cy="326.2" r="2.7"/><circle cx="1077.4" cy="317.6" r="2.7"/><circle cx="1083.7" cy="317.1" r="2.7"/><circle cx="1069.7" cy="328.4" r="2.7"/><circle cx="1087.3" cy="313.9" r="2.7"/><circle cx="1076.8" cy="313.0" r="2.7"/><circle cx="1074.2" cy="331.6" r="2.7"/><circle cx="1068.5" cy="324.9" r="2.7"/><circle cx="1073.4" cy="316.9" r="2.7"/><circle cx="1081.7" cy="313.8" r="2.7"/><circle cx="1073.1" cy="322.7" r="2.7"/><circle cx="1081.0" cy="320.4" r="2.7"/><circle cx="1069.7" cy="321.1" r="2.7"/><circle cx="1065.3" cy="327.2" r="2.7"/><circle cx="1105.1" cy="303.3" r="2.7"/><circle cx="1095.9" cy="308.8" r="2.7"/><circle cx="1091.6" cy="310.5" r="2.7"/><circle cx="1099.9" cy="305.6" r="2.7"/><circle cx="1099.7" cy="309.7" r="2.7"/><circle cx="1091.6" cy="304.3" r="2.7"/><circle cx="1106.2" cy="309.8" r="2.7"/><circle cx="1096.1" cy="305.1" r="2.7"/><circle cx="1103.0" cy="308.0" r="2.7"/><circle cx="921.3" cy="306.2" r="2.7"/><circle cx="917.9" cy="311.8" r="2.7"/><circle cx="921.8" cy="320.0" r="2.7"/><circle cx="914.2" cy="335.4" r="2.7"/><circle cx="957.9" cy="295.5" r="2.7"/><circle cx="967.3" cy="295.5" r="2.7"/><circle cx="964.3" cy="307.1" r="2.7"/><circle cx="960.0" cy="317.4" r="2.7"/><circle cx="956.6" cy="323.4" r="2.7"/><circle cx="967.7" cy="328.6" r="2.7"/><circle cx="954.8" cy="333.7" r="2.7"/><circle cx="987.9" cy="310.1" r="2.7"/><circle cx="986.6" cy="321.3" r="2.7"/><circle cx="983.2" cy="332.4" r="2.7"/><circle cx="1018.6" cy="302.3" r="2.7"/><circle cx="1016.0" cy="309.6" r="2.7"/><circle cx="1025.9" cy="313.1" r="2.7"/><circle cx="1022.9" cy="319.1" r="2.7"/><circle cx="1015.2" cy="323.0" r="2.7"/><circle cx="1026.8" cy="331.6" r="2.7"/><circle cx="1053.8" cy="313.5" r="2.7"/><circle cx="1056.8" cy="322.1" r="2.7"/><circle cx="1051.3" cy="294.6" r="2.7"/><circle cx="1069.3" cy="308.4" r="2.7"/><circle cx="1069.3" cy="314.0" r="2.7"/><circle cx="1099.0" cy="317.8" r="2.7"/><circle cx="1102.8" cy="322.1" r="2.7"/><circle cx="1091.6" cy="330.7" r="2.7"/><circle cx="1078.8" cy="333.7" r="2.7"/>
</g>
<text x="941.0" y="185.0" font-size="31" fill="#1c1c1c" textLength="147.0" lengthAdjust="spacingAndGlyphs">electrolyte</text>
<path d="M987.0 286.0V213.5" stroke="#0a17a8" stroke-width="2.6" fill="none"/>
<path d="M987.0 205.5L993.8 221.5L987.0 217.5L980.2 221.5Z" fill="#0a17a8"/>
<text x="997.5" y="250.5" font-size="31" fill="#0a17a8" textLength="38.0" lengthAdjust="spacingAndGlyphs">Na</text>
<text x="1038.7" y="242.3" font-size="29" fill="#0a17a8" textLength="16.4" lengthAdjust="spacingAndGlyphs">+</text>
<path d="M987.0 338.0V377.0" stroke="#111" stroke-width="2.6" fill="none"/>
<path d="M987.0 385.0L980.2 369.0L987.0 373.0L993.8 369.0Z" fill="#111"/>
<text x="996.0" y="361.5" font-size="31" fill="#1c1c1c" textLength="13.5" lengthAdjust="spacingAndGlyphs">e</text>
<text x="1011.5" y="349.5" font-size="21" fill="#1c1c1c" textLength="15.5" lengthAdjust="spacingAndGlyphs">−</text>
<text x="970.5" y="421.0" font-size="31" fill="#1c1c1c" textLength="38.0" lengthAdjust="spacingAndGlyphs">Na</text>
<text x="1010.5" y="425.5" font-size="21.5" fill="#1c1c1c" textLength="48.0" lengthAdjust="spacingAndGlyphs" font-style="italic">bulk</text>
</g>
<rect x="912.8" y="154.2" width="203.8" height="294.6" fill="none" stroke="#82968c" stroke-width="1.6"/>
</g>
<text x="1121.8" y="330.5" font-size="37" fill="#1c1c1c" textLength="11.7" lengthAdjust="spacingAndGlyphs">}</text>
<text x="1136.0" y="327.5" font-size="31" fill="#1c1c1c" textLength="37.5" lengthAdjust="spacingAndGlyphs">Na</text>
<text x="1175.5" y="333.0" font-size="21.5" fill="#1c1c1c" textLength="70.5" lengthAdjust="spacingAndGlyphs" font-style="italic">plated</text>
<clipPath id="cp-inset-discharge2"><rect x="339.6" y="543.5" width="204.7" height="293.9"/></clipPath>
<g id="inset-discharge2"><g clip-path="url(#cp-inset-discharge2)">
<rect x="339.6" y="543.5" width="204.7" height="293.9" fill="url(#gel)"/>
<path d="M339.6 771.0L339.6 771.0L352.0 770.5L354.0 775.0L356.0 770.5L372.0 770.0L374.0 774.0L376.0 770.0L392.0 771.0L400.0 770.0L420.0 769.5L440.0 772.0L462.0 771.5L470.0 771.0L472.0 775.0L474.0 771.0L496.0 770.5L507.0 770.0L509.0 774.5L511.0 770.0L530.0 769.5L544.3 768.5L544.3 768.5L544.3 837.4L339.6 837.4Z" fill="#b9b9b9"/>
<clipPath id="cy-inset-discharge2"><path d="M339.6 648.4L345.8 647.5L351.3 638.5L357.8 648.4L362.9 656.1L368.1 645.8L366.4 640.2L361.6 636.3L367.2 634.6L377.5 644.9L381.8 652.7L391.3 634.6L393.9 632.9L392.2 644.9L397.3 640.2L395.6 646.6L387.9 663.8L399.9 663.8L405.0 652.7L411.9 649.2L417.0 650.0L418.0 661.3L423.1 656.1L429.1 649.2L434.3 654.4L437.3 641.0L439.0 654.5L442.2 656.1L449.0 644.5L445.6 657.0L452.0 660.0L456.3 648.4L455.5 640.2L459.8 651.4L465.4 635.0L467.1 655.2L471.4 640.6L474.0 650.1L476.1 663.0L479.5 660.0L484.0 662.0L487.3 654.8L490.3 663.0L494.1 651.4L492.4 668.1L496.5 670.0L499.3 671.6L500.6 648.4L497.2 645.4L503.2 648.4L507.9 638.5L508.3 645.8L512.6 665.5L516.0 664.0L519.5 668.1L517.8 644.9L519.9 641.1L522.9 648.4L531.5 675.9L537.6 657.0L531.5 645.8L538.4 654.4L542.7 664.7L544.3 668.0L544.3 768.5L530.0 769.5L511.0 770.0L509.0 774.5L507.0 770.0L496.0 770.5L474.0 771.0L472.0 775.0L470.0 771.0L462.0 771.5L440.0 772.0L420.0 769.5L400.0 770.0L392.0 771.0L376.0 770.0L374.0 774.0L372.0 770.0L356.0 770.5L354.0 775.0L352.0 770.5L339.6 771.0Z"/></clipPath>
<path d="M339.6 648.4L345.8 647.5L351.3 638.5L357.8 648.4L362.9 656.1L368.1 645.8L366.4 640.2L361.6 636.3L367.2 634.6L377.5 644.9L381.8 652.7L391.3 634.6L393.9 632.9L392.2 644.9L397.3 640.2L395.6 646.6L387.9 663.8L399.9 663.8L405.0 652.7L411.9 649.2L417.0 650.0L418.0 661.3L423.1 656.1L429.1 649.2L434.3 654.4L437.3 641.0L439.0 654.5L442.2 656.1L449.0 644.5L445.6 657.0L452.0 660.0L456.3 648.4L455.5 640.2L459.8 651.4L465.4 635.0L467.1 655.2L471.4 640.6L474.0 650.1L476.1 663.0L479.5 660.0L484.0 662.0L487.3 654.8L490.3 663.0L494.1 651.4L492.4 668.1L496.5 670.0L499.3 671.6L500.6 648.4L497.2 645.4L503.2 648.4L507.9 638.5L508.3 645.8L512.6 665.5L516.0 664.0L519.5 668.1L517.8 644.9L519.9 641.1L522.9 648.4L531.5 675.9L537.6 657.0L531.5 645.8L538.4 654.4L542.7 664.7L544.3 668.0L544.3 768.5L530.0 769.5L511.0 770.0L509.0 774.5L507.0 770.0L496.0 770.5L474.0 771.0L472.0 775.0L470.0 771.0L462.0 771.5L440.0 772.0L420.0 769.5L400.0 770.0L392.0 771.0L376.0 770.0L374.0 774.0L372.0 770.0L356.0 770.5L354.0 775.0L352.0 770.5L339.6 771.0Z" fill="#d5c570"/>
<path d="M339.6 648.4L345.8 647.5L351.3 638.5L357.8 648.4L362.9 656.1L368.1 645.8L366.4 640.2L361.6 636.3L367.2 634.6L377.5 644.9L381.8 652.7L391.3 634.6L393.9 632.9L392.2 644.9L397.3 640.2L395.6 646.6L387.9 663.8L399.9 663.8L405.0 652.7L411.9 649.2L417.0 650.0L418.0 661.3L423.1 656.1L429.1 649.2L434.3 654.4L437.3 641.0L439.0 654.5L442.2 656.1L449.0 644.5L445.6 657.0L452.0 660.0L456.3 648.4L455.5 640.2L459.8 651.4L465.4 635.0L467.1 655.2L471.4 640.6L474.0 650.1L476.1 663.0L479.5 660.0L484.0 662.0L487.3 654.8L490.3 663.0L494.1 651.4L492.4 668.1L496.5 670.0L499.3 671.6L500.6 648.4L497.2 645.4L503.2 648.4L507.9 638.5L508.3 645.8L512.6 665.5L516.0 664.0L519.5 668.1L517.8 644.9L519.9 641.1L522.9 648.4L531.5 675.9L537.6 657.0L531.5 645.8L538.4 654.4L542.7 664.7L544.3 668.0" fill="none" stroke="#6a8050" stroke-width="1.7" stroke-linejoin="round"/>
<path d="M339.6 771.0L352.0 770.5L354.0 775.0L356.0 770.5L372.0 770.0L374.0 774.0L376.0 770.0L392.0 771.0L400.0 770.0L420.0 769.5L440.0 772.0L462.0 771.5L470.0 771.0L472.0 775.0L474.0 771.0L496.0 770.5L507.0 770.0L509.0 774.5L511.0 770.0L530.0 769.5L544.3 768.5" fill="none" stroke="#6f7448" stroke-width="1.2" stroke-linejoin="round"/>
<path d="M350.2 641.5L351.3 638.2M365.5 639.5L361.3 636.0M389.5 638.0L394.2 632.5M395.2 643.0L397.6 639.6M437.2 646.0L437.4 640.5M447.3 648.0L449.2 644.0M455.8 645.0L455.4 639.8M464.4 640.0L465.5 634.6M470.6 645.0L471.5 640.2M486.5 658.0L487.4 654.4M493.6 656.0L494.2 651.0M499.5 647.5L496.8 645.0M506.6 643.0L508.1 638.0M519.2 645.0L520.0 640.7M534.5 650.0L531.2 645.4" fill="none" stroke="#7f8f5c" stroke-width="2.2" stroke-linecap="round"/>
<g clip-path="url(#cy-inset-discharge2)">
<path d="M338.6 642.5L347.5 656.5L352.2 667.3L354.0 678.0L364.0 688.5L373.0 699.5L375.0 706.0L371.3 720.9M359.5 637.0L368.0 656.0L372.0 665.0L372.5 684.0L374.5 697.0L375.0 706.9M390.0 660.0L399.0 668.0L407.5 676.0L409.0 681.0L405.5 693.0L401.7 705.9M424.0 664.0L415.0 672.0L407.3 678.6M420.0 662.0L431.0 667.0L441.8 672.4M452.0 653.0L452.0 658.0L442.0 672.0L433.0 688.0L425.0 701.5L431.0 710.0L440.0 722.2M452.0 653.0L453.0 658.0L457.0 667.0L463.5 687.0L467.0 700.0L469.5 712.0L472.2 725.9M479.5 648.0L480.5 658.0L482.0 666.0L474.0 680.0L465.5 691.7M496.2 652.0L496.4 668.0L498.0 674.0L504.0 683.5L512.0 695.0L506.0 706.0L502.8 718.4M512.0 695.0L531.9 690.8M514.5 648.0L516.3 666.0L504.5 681.7" fill="none" stroke="#728256" stroke-width="7.7" stroke-linejoin="round" stroke-linecap="butt"/>
<path d="M337.7 641.1L347.5 656.5L352.2 667.3L354.0 678.0L364.0 688.5L373.0 699.5L375.0 706.0L371.5 720.0M358.8 635.5L368.0 656.0L372.0 665.0L372.5 684.0L374.5 697.0L375.0 706.0M388.8 658.9L399.0 668.0L407.5 676.0L409.0 681.0L405.5 693.0L402.0 705.0M425.2 662.9L415.0 672.0L408.0 678.0M418.5 661.3L431.0 667.0L441.0 672.0M452.0 651.4L452.0 658.0L442.0 672.0L433.0 688.0L425.0 701.5L431.0 710.0L439.5 721.5M451.7 651.4L453.0 658.0L457.0 667.0L463.5 687.0L467.0 700.0L469.5 712.0L472.0 725.0M479.3 646.4L480.5 658.0L482.0 666.0L474.0 680.0L466.0 691.0M496.2 650.4L496.4 668.0L498.0 674.0L504.0 683.5L512.0 695.0L506.0 706.0L503.0 717.5M510.4 695.3L531.0 691.0M514.3 646.4L516.3 666.0L505.0 681.0" fill="none" stroke="#d4f3e5" stroke-width="4.7" stroke-linejoin="round" stroke-linecap="butt"/>
</g>
<text x="368.0" y="573.4" font-size="31" fill="#1c1c1c" textLength="147.5" lengthAdjust="spacingAndGlyphs">electrolyte</text>
<path d="M413.6 709.0V593.0" stroke="#0a17a8" stroke-width="2.6" fill="none"/>
<path d="M413.6 585.0L420.4 601.0L413.6 597.0L406.9 601.0Z" fill="#0a17a8"/>
<text x="425.0" y="629.0" font-size="31" fill="#0a17a8" textLength="38.0" lengthAdjust="spacingAndGlyphs">Na</text>
<text x="466.2" y="620.8" font-size="29" fill="#0a17a8" textLength="16.4" lengthAdjust="spacingAndGlyphs">+</text>
<path d="M413.6 774.0V727.5" stroke="#0a17a8" stroke-width="2.6" fill="none"/>
<path d="M413.6 719.5L420.4 735.5L413.6 731.5L406.9 735.5Z" fill="#0a17a8"/>
<text x="425.0" y="759.0" font-size="31" fill="#0a17a8" textLength="38.0" lengthAdjust="spacingAndGlyphs">Na</text>
<text x="466.2" y="750.8" font-size="29" fill="#0a17a8" textLength="16.4" lengthAdjust="spacingAndGlyphs">+</text>
<ellipse cx="450" cy="745.8" rx="65.5" ry="28.5" fill="none" stroke="#d3200f" stroke-width="2.6"/>
<text x="396.0" y="809.0" font-size="31" fill="#1c1c1c" textLength="38.0" lengthAdjust="spacingAndGlyphs">Na</text>
<text x="436.0" y="813.5" font-size="21.5" fill="#1c1c1c" textLength="48.0" lengthAdjust="spacingAndGlyphs" font-style="italic">bulk</text>
</g>
<rect x="339.6" y="543.5" width="204.7" height="293.9" fill="none" stroke="#82968c" stroke-width="1.6"/>
</g>
<path d="M515.5 745.8H562" stroke="#d3200f" stroke-width="2.4" fill="none"/>
<path d="M570.0 745.8L556.0 751.3L560.9 745.8L556.0 740.3Z" fill="#d3200f"/>
<text x="583.5" y="753.7" font-size="31" fill="#1c1c1c" textLength="118.0" lengthAdjust="spacingAndGlyphs">inducing</text>
<text x="583.5" y="786.7" font-size="31" fill="#1c1c1c" textLength="166.0" lengthAdjust="spacingAndGlyphs">polarization</text>
<rect x="778.3" y="468.3" width="498.0" height="408.0" fill="#fff" stroke="#5c5c5c" stroke-width="1.5"/>
<path d="M1276.3 747.0h-10M1276.3 617.8h-10M1276.3 488.5h-10M813.0 876.3v-10M982.0 876.3v-10M1151.0 876.3v-10" stroke="#5c5c5c" stroke-width="1.3" fill="none"/>
<text x="786.4" y="502.8" font-size="31" fill="#1c1c1c" textLength="102.8" lengthAdjust="spacingAndGlyphs">counter</text>
<text x="902.2" y="502.8" font-size="31" fill="#1c1c1c" textLength="126.8" lengthAdjust="spacingAndGlyphs">electrode</text>
<text x="1040.3" y="502.8" font-size="31" fill="#1c1c1c" textLength="64.2" lengthAdjust="spacingAndGlyphs">after</text>
<text x="1117.5" y="502.8" font-size="31" fill="#1c1c1c" textLength="96.7" lengthAdjust="spacingAndGlyphs">cycling</text>
<clipPath id="cp-inset-counter"><rect x="797.2" y="529.0" width="204.0" height="294.7"/></clipPath>
<g id="inset-counter"><g clip-path="url(#cp-inset-counter)">
<rect x="797.2" y="529.0" width="204.0" height="294.7" fill="url(#gel)"/>
<path d="M797.2 756.9L797.2 756.9L800.6 757.9L804.0 757.6L807.4 758.4L810.8 758.6L814.2 757.2L817.6 757.1L821.0 759.6L824.4 758.0L827.8 758.0L831.2 760.2L834.6 758.7L838.0 759.7L841.4 758.7L844.8 759.1L848.2 757.6L851.6 758.9L855.0 759.4L858.4 758.3L861.8 758.8L865.2 758.4L868.6 756.5L872.0 758.3L875.4 757.7L878.8 756.7L882.2 755.8L885.6 758.0L889.0 756.7L892.4 757.3L895.8 757.7L899.2 757.1L902.6 757.6L906.0 756.1L909.4 757.2L912.8 756.3L916.2 757.7L919.6 757.6L923.0 755.5L926.4 755.7L929.8 756.0L933.2 758.3L936.6 756.9L940.0 757.6L943.4 756.9L946.8 757.6L950.2 757.5L953.6 757.5L957.0 758.3L960.4 758.5L963.8 759.5L967.2 759.0L970.6 759.8L974.0 759.7L977.4 760.1L980.8 759.3L984.2 757.9L987.6 759.8L991.0 760.1L994.4 759.8L997.8 758.8L1001.2 759.1L1001.2 759.1L1001.2 823.7L797.2 823.7Z" fill="#b9b9b9"/>
<clipPath id="cy-inset-counter"><path d="M797.2 636.6L799.7 623.7L808.3 624.1L817.8 640.9L826.0 648.0L824.7 624.1L830.7 624.5L834.1 628.0L839.7 640.9L852.2 619.4L856.0 622.8L847.0 648.6L858.2 653.8L863.3 636.6L865.9 638.7L869.3 636.6L872.5 634.5L873.0 650.0L880.5 644.3L887.4 638.3L894.3 644.3L900.4 645.2L906.0 646.0L910.0 652.0L916.8 640.0L923.6 642.6L930.1 638.3L934.8 640.0L936.0 652.0L944.7 643.4L947.7 652.0L952.0 640.0L953.0 655.0L957.2 636.6L960.6 637.4L965.7 627.0L969.2 622.0L972.6 619.4L976.0 625.4L981.0 645.0L985.0 655.0L994.1 641.7L999.7 640.9L1001.2 642.0L1001.2 759.1L997.8 758.8L994.4 759.8L991.0 760.1L987.6 759.8L984.2 757.9L980.8 759.3L977.4 760.1L974.0 759.7L970.6 759.8L967.2 759.0L963.8 759.5L960.4 758.5L957.0 758.3L953.6 757.5L950.2 757.5L946.8 757.6L943.4 756.9L940.0 757.6L936.6 756.9L933.2 758.3L929.8 756.0L926.4 755.7L923.0 755.5L919.6 757.6L916.2 757.7L912.8 756.3L909.4 757.2L906.0 756.1L902.6 757.6L899.2 757.1L895.8 757.7L892.4 757.3L889.0 756.7L885.6 758.0L882.2 755.8L878.8 756.7L875.4 757.7L872.0 758.3L868.6 756.5L865.2 758.4L861.8 758.8L858.4 758.3L855.0 759.4L851.6 758.9L848.2 757.6L844.8 759.1L841.4 758.7L838.0 759.7L834.6 758.7L831.2 760.2L827.8 758.0L824.4 758.0L821.0 759.6L817.6 757.1L814.2 757.2L810.8 758.6L807.4 758.4L804.0 757.6L800.6 757.9L797.2 756.9Z"/></clipPath>
<path d="M797.2 636.6L799.7 623.7L808.3 624.1L817.8 640.9L826.0 648.0L824.7 624.1L830.7 624.5L834.1 628.0L839.7 640.9L852.2 619.4L856.0 622.8L847.0 648.6L858.2 653.8L863.3 636.6L865.9 638.7L869.3 636.6L872.5 634.5L873.0 650.0L880.5 644.3L887.4 638.3L894.3 644.3L900.4 645.2L906.0 646.0L910.0 652.0L916.8 640.0L923.6 642.6L930.1 638.3L934.8 640.0L936.0 652.0L944.7 643.4L947.7 652.0L952.0 640.0L953.0 655.0L957.2 636.6L960.6 637.4L965.7 627.0L969.2 622.0L972.6 619.4L976.0 625.4L981.0 645.0L985.0 655.0L994.1 641.7L999.7 640.9L1001.2 642.0L1001.2 759.1L997.8 758.8L994.4 759.8L991.0 760.1L987.6 759.8L984.2 757.9L980.8 759.3L977.4 760.1L974.0 759.7L970.6 759.8L967.2 759.0L963.8 759.5L960.4 758.5L957.0 758.3L953.6 757.5L950.2 757.5L946.8 757.6L943.4 756.9L940.0 757.6L936.6 756.9L933.2 758.3L929.8 756.0L926.4 755.7L923.0 755.5L919.6 757.6L916.2 757.7L912.8 756.3L909.4 757.2L906.0 756.1L902.6 757.6L899.2 757.1L895.8 757.7L892.4 757.3L889.0 756.7L885.6 758.0L882.2 755.8L878.8 756.7L875.4 757.7L872.0 758.3L868.6 756.5L865.2 758.4L861.8 758.8L858.4 758.3L855.0 759.4L851.6 758.9L848.2 757.6L844.8 759.1L841.4 758.7L838.0 759.7L834.6 758.7L831.2 760.2L827.8 758.0L824.4 758.0L821.0 759.6L817.6 757.1L814.2 757.2L810.8 758.6L807.4 758.4L804.0 757.6L800.6 757.9L797.2 756.9Z" fill="#d5c570"/>
<path d="M797.2 636.6L799.7 623.7L808.3 624.1L817.8 640.9L826.0 648.0L824.7 624.1L830.7 624.5L834.1 628.0L839.7 640.9L852.2 619.4L856.0 622.8L847.0 648.6L858.2 653.8L863.3 636.6L865.9 638.7L869.3 636.6L872.5 634.5L873.0 650.0L880.5 644.3L887.4 638.3L894.3 644.3L900.4 645.2L906.0 646.0L910.0 652.0L916.8 640.0L923.6 642.6L930.1 638.3L934.8 640.0L936.0 652.0L944.7 643.4L947.7 652.0L952.0 640.0L953.0 655.0L957.2 636.6L960.6 637.4L965.7 627.0L969.2 622.0L972.6 619.4L976.0 625.4L981.0 645.0L985.0 655.0L994.1 641.7L999.7 640.9L1001.2 642.0" fill="none" stroke="#6a8050" stroke-width="1.7" stroke-linejoin="round"/>
<path d="M797.2 756.9L800.6 757.9L804.0 757.6L807.4 758.4L810.8 758.6L814.2 757.2L817.6 757.1L821.0 759.6L824.4 758.0L827.8 758.0L831.2 760.2L834.6 758.7L838.0 759.7L841.4 758.7L844.8 759.1L848.2 757.6L851.6 758.9L855.0 759.4L858.4 758.3L861.8 758.8L865.2 758.4L868.6 756.5L872.0 758.3L875.4 757.7L878.8 756.7L882.2 755.8L885.6 758.0L889.0 756.7L892.4 757.3L895.8 757.7L899.2 757.1L902.6 757.6L906.0 756.1L909.4 757.2L912.8 756.3L916.2 757.7L919.6 757.6L923.0 755.5L926.4 755.7L929.8 756.0L933.2 758.3L936.6 756.9L940.0 757.6L943.4 756.9L946.8 757.6L950.2 757.5L953.6 757.5L957.0 758.3L960.4 758.5L963.8 759.5L967.2 759.0L970.6 759.8L974.0 759.7L977.4 760.1L980.8 759.3L984.2 757.9L987.6 759.8L991.0 760.1L994.4 759.8L997.8 758.8L1001.2 759.1" fill="none" stroke="#6f7448" stroke-width="1.2" stroke-linejoin="round"/>
<path d="M803.2 622.8L799.7 610.8L802.7 597.9M806.6 622.0L816.1 599.6L811.3 590.2M814.8 623.2L824.7 624.5M825.1 624.1L823.4 611.6L826.4 597.0M830.7 624.5L836.7 606.5M852.2 618.5L843.6 603.5L847.0 592.7M855.6 622.0L870.2 606.5L863.3 590.2L855.6 601.3L853.9 618.1M863.3 626.3L864.2 636.6M869.3 636.6L877.1 614.2L883.1 611.6L888.3 636.6M895.1 644.3L894.3 629.7L900.3 620.2M909.0 595.3L901.7 612.5L912.5 626.3L916.8 640.0M906.9 633.1L900.4 645.2M930.9 607.8L925.8 616.8M925.8 616.8L920.6 625.4L922.4 640.0M925.8 616.8L929.2 626.3L930.1 637.4M940.0 615.1L941.7 624.5L934.8 640.0M952.0 614.2L949.4 623.7L959.7 636.6M958.9 591.0L960.2 600.5L957.2 609.1L969.2 622.0M974.8 596.2L970.5 604.8L971.8 618.5M976.5 610.8L974.3 619.4M965.8 626.3L970.0 653.8M944.7 643.4L946.4 652.9M952.0 639.1L948.6 652.0M991.1 615.5L999.3 633.1L999.7 641.7M985.9 629.7L994.1 640.0L995.0 645.2" fill="none" stroke="#7b926a" stroke-width="3.5" stroke-linecap="round" stroke-linejoin="round"/>
<g clip-path="url(#cy-inset-counter)">
<path d="M795.8 630.5L804.7 644.5L809.4 655.3L811.2 666.0L821.2 676.5L830.2 687.5L832.2 694.0L828.5 708.9M816.7 625.0L825.2 644.0L829.2 653.0L829.7 672.0L831.7 685.0L832.2 694.9M847.2 648.0L856.2 656.0L864.7 664.0L866.2 669.0L862.7 681.0L858.9 693.9M881.2 652.0L872.2 660.0L864.5 666.6M877.2 650.0L888.2 655.0L899.0 660.4M909.2 641.0L909.2 646.0L899.2 660.0L890.2 676.0L882.2 689.5L888.2 698.0L897.2 710.2M909.2 641.0L910.2 646.0L914.2 655.0L920.7 675.0L924.2 688.0L926.7 700.0L929.4 713.9M936.7 636.0L937.7 646.0L939.2 654.0L931.2 668.0L922.7 679.7M953.4 640.0L953.6 656.0L955.2 662.0L961.2 671.5L969.2 683.0L963.2 694.0L960.0 706.4M969.2 683.0L989.1 678.8M971.7 636.0L973.5 654.0L961.7 669.7" fill="none" stroke="#728256" stroke-width="7.7" stroke-linejoin="round" stroke-linecap="butt"/>
<path d="M794.9 629.1L804.7 644.5L809.4 655.3L811.2 666.0L821.2 676.5L830.2 687.5L832.2 694.0L828.7 708.0M816.0 623.5L825.2 644.0L829.2 653.0L829.7 672.0L831.7 685.0L832.2 694.0M846.0 646.9L856.2 656.0L864.7 664.0L866.2 669.0L862.7 681.0L859.2 693.0M882.4 650.9L872.2 660.0L865.2 666.0M875.7 649.3L888.2 655.0L898.2 660.0M909.2 639.4L909.2 646.0L899.2 660.0L890.2 676.0L882.2 689.5L888.2 698.0L896.7 709.5M908.9 639.4L910.2 646.0L914.2 655.0L920.7 675.0L924.2 688.0L926.7 700.0L929.2 713.0M936.5 634.4L937.7 646.0L939.2 654.0L931.2 668.0L923.2 679.0M953.4 638.4L953.6 656.0L955.2 662.0L961.2 671.5L969.2 683.0L963.2 694.0L960.2 705.5M967.6 683.3L988.2 679.0M971.5 634.4L973.5 654.0L962.2 669.0" fill="none" stroke="#d4f3e5" stroke-width="4.7" stroke-linejoin="round" stroke-linecap="butt"/>
</g>
</g>
<rect x="797.2" y="529.0" width="204.0" height="294.7" fill="none" stroke="#82968c" stroke-width="1.6"/>
</g>
<g fill="none" stroke-width="2.8" stroke-linejoin="miter">
<path d="M1187 824.5V753L1009.8 706.7V536" stroke="#f0241c"/>
<path d="M1015.8 824.5V752L1031.4 707.3L1097.8 598.6L1179.7 530" stroke="#16a81a"/>
<path d="M1010.4 824.5V706.7L1039.7 598L1098.4 530" stroke="#1414f0"/>
</g>
<path d="M1009.7 825.9V538" stroke="#5a1218" stroke-width="2.4" fill="none"/>
<path d="M1009.7 529.0L1015.0 541.0L1009.7 536.8L1004.5 541.0Z" fill="#3d0c12"/>
<path d="M1008.5 825H1208" stroke="#333" stroke-width="1.7" fill="none"/>
<path d="M1217.0 825.0L1204.0 830.2L1208.5 825.0L1204.0 819.8Z" fill="#111"/>
<path d="M1079.5 648.8H1115" stroke-linecap="butt" stroke="#f0241c" stroke-width="2.8"/>
<path d="M1079.5 677.4H1115" stroke-linecap="butt" stroke="#16a81a" stroke-width="2.8"/>
<path d="M1079.5 705.8H1115" stroke-linecap="butt" stroke="#1414f0" stroke-width="2.8"/>
<text x="1142.7" y="657.6" font-size="31" fill="#1c1c1c" textLength="17.5" lengthAdjust="spacingAndGlyphs" font-style="italic">σ</text>
<text x="1163.5" y="657.6" font-size="31" fill="#1c1c1c" textLength="8.5" lengthAdjust="spacingAndGlyphs">(</text>
<text x="1174.8" y="657.6" font-size="31" fill="#1c1c1c" textLength="13.5" lengthAdjust="spacingAndGlyphs">e</text>
<text x="1191.5" y="647.2" font-size="21" fill="#1c1c1c" textLength="15.3" lengthAdjust="spacingAndGlyphs">−</text>
<text x="1213.3" y="657.6" font-size="31" fill="#1c1c1c" textLength="8.7" lengthAdjust="spacingAndGlyphs">)</text>
<text x="1142.7" y="686.2" font-size="31" fill="#1c1c1c" textLength="17.5" lengthAdjust="spacingAndGlyphs" font-style="italic">σ</text>
<text x="1164.5" y="686.2" font-size="31" fill="#1c1c1c" textLength="8.3" lengthAdjust="spacingAndGlyphs">(</text>
<text x="1176.0" y="686.2" font-size="31" fill="#1c1c1c" textLength="38.0" lengthAdjust="spacingAndGlyphs">Na</text>
<text x="1217.9" y="678.6" font-size="29" fill="#1c1c1c" textLength="16.4" lengthAdjust="spacingAndGlyphs">+</text>
<text x="1238.5" y="686.2" font-size="31" fill="#1c1c1c" textLength="9.0" lengthAdjust="spacingAndGlyphs">)</text>
<text x="1143.3" y="713.9" font-size="31" fill="#1c1c1c" textLength="128.7" lengthAdjust="spacingAndGlyphs">solubility</text>
<text x="1029.0" y="861.3" font-size="31" fill="#1c1c1c" textLength="17.5" lengthAdjust="spacingAndGlyphs" font-style="italic">σ</text>
<text x="1047.0" y="861.3" font-size="31" fill="#1c1c1c" textLength="7.0" lengthAdjust="spacingAndGlyphs">,</text>
<text x="1068.0" y="861.3" font-size="31" fill="#1c1c1c" textLength="129.5" lengthAdjust="spacingAndGlyphs">solubility</text>
<g fill="none" stroke="#111" stroke-width="2.8" stroke-linecap="round">
<path d="M472.8 412.8L444.5 347.8"/>
<path d="M266.2 518.7C256 556 288 578 322 593"/>
<path d="M835.9 141.3C848 168 870 188 896.5 203.5"/>
</g>
<path d="M441.3 340.6L453.4 352.2L445.3 349.8L441.5 357.4Z" fill="#111"/>
<path d="M331.0 596.6L314.2 596.5L321.7 592.7L319.3 584.6Z" fill="#111"/>
<path d="M904.2 207.9L887.5 206.1L895.4 203.0L893.8 194.7Z" fill="#111"/>
<text x="469.7" y="383.0" font-size="31" fill="#1c1c1c" textLength="89.3" lengthAdjust="spacingAndGlyphs">charge</text>
<text x="730.0" y="207.5" font-size="31" fill="#1c1c1c" textLength="140.0" lengthAdjust="spacingAndGlyphs">discharge,</text>
<text x="731.0" y="242.5" font-size="31" fill="#1c1c1c" textLength="14.0" lengthAdjust="spacingAndGlyphs">1</text>
<text x="747.0" y="230.5" font-size="21" fill="#1c1c1c" textLength="21.0" lengthAdjust="spacingAndGlyphs" font-style="italic">st</text>
<text x="781.0" y="242.5" font-size="31" fill="#1c1c1c" textLength="72.0" lengthAdjust="spacingAndGlyphs">stage</text>
<text x="194.0" y="641.5" font-size="31" fill="#1c1c1c" textLength="139.0" lengthAdjust="spacingAndGlyphs">discharge,</text>
<text x="194.0" y="676.0" font-size="31" fill="#1c1c1c" textLength="15.0" lengthAdjust="spacingAndGlyphs">2</text>
<text x="211.0" y="664.0" font-size="21" fill="#1c1c1c" textLength="27.0" lengthAdjust="spacingAndGlyphs" font-style="italic">nd</text>
<text x="251.0" y="676.0" font-size="31" fill="#1c1c1c" textLength="73.0" lengthAdjust="spacingAndGlyphs">stage</text>
</svg></body></html>
